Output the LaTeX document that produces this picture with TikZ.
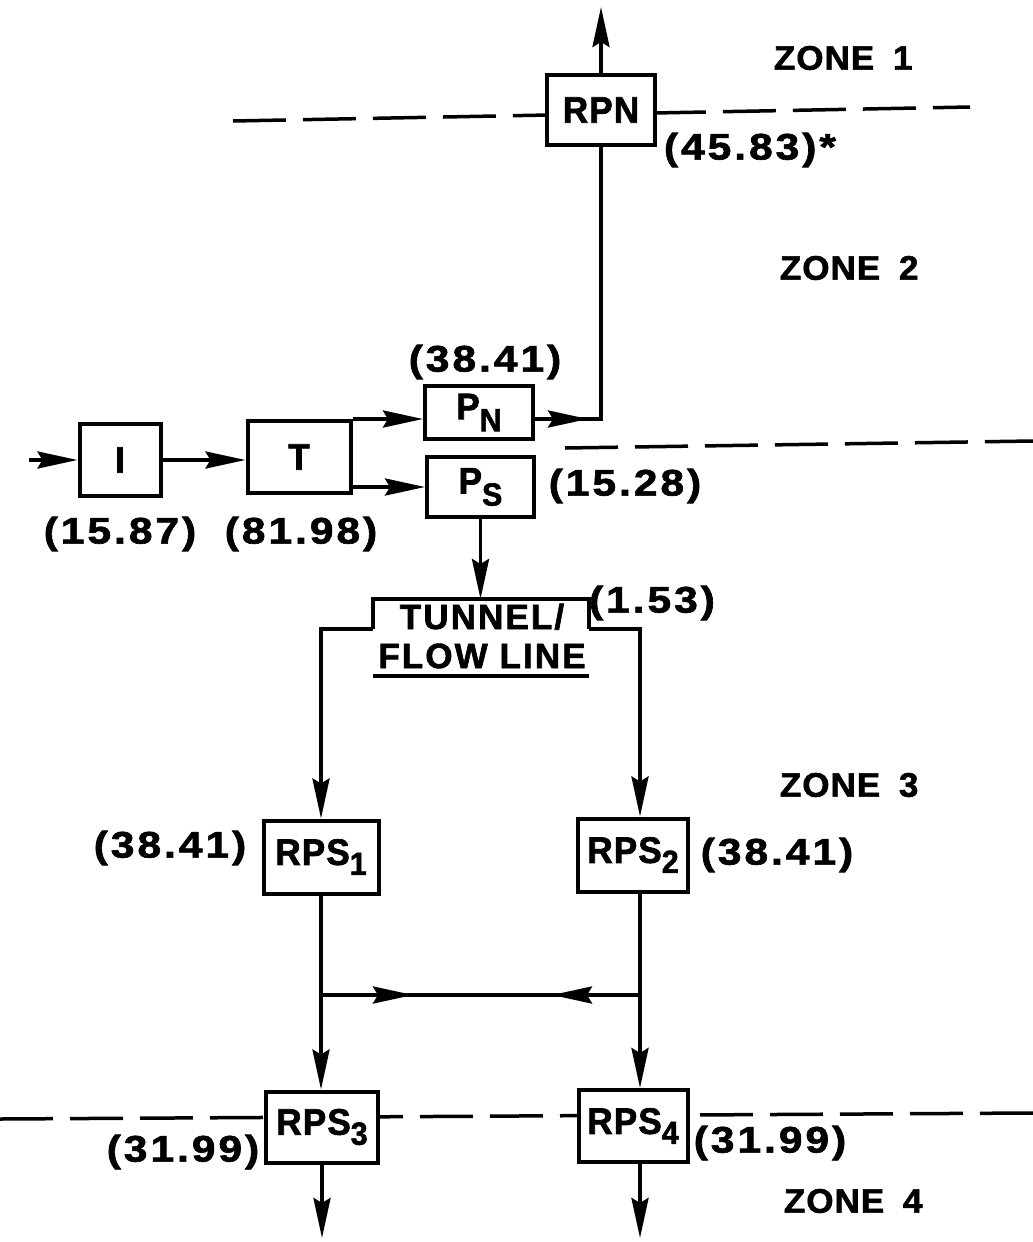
\documentclass[tikz,border=0pt]{standalone}
\usepackage{fontspec}
\setmainfont{Liberation Sans}
\newfontfamily\wordfont{Liberation Sans}[FakeStretch=1.03,LetterSpace=3,FakeBold=1.6]
\newfontfamily\boxfont{Liberation Sans}[FakeStretch=0.95,LetterSpace=3,FakeBold=1.8]
\newfontfamily\tunfont{Liberation Sans}[FakeStretch=1.0,LetterSpace=6,FakeBold=1.8]
\newfontfamily\numfont{Liberation Sans}[FakeStretch=1.15,LetterSpace=8,FakeBold=1.7]
\usetikzlibrary{arrows.meta}
\newcommand\lowsub[2]{\raisebox{-#1pt}{\fontsize{32}{32}\selectfont #2}}
\begin{document}
\begin{tikzpicture}[x=1pt,y=-1pt,
  line width=3.8pt,
  >={Stealth[length=40pt,width=17pt,inset=5pt]},
  box/.style={draw,line width=4pt,fill=white,inner sep=0pt,
    font=\boxfont\bfseries\fontsize{37}{39}\selectfont},
  num/.style={font=\numfont\bfseries\fontsize{37}{39}\selectfont,inner sep=0pt},
  zone/.style={font=\wordfont\bfseries\fontsize{34}{36}\selectfont,inner sep=0pt,anchor=west},
  zline/.style={dash pattern=on 53pt off 17pt,line width=3.5pt}]

\useasboundingbox[fill=white] (0,0) rectangle (1033,1242);

% zone boundaries
\draw[zline] (233,121) -- (970,107);
\draw[zline] (565,448) -- (1033,441);
\draw[zline] (0,1119) -- (1033,1113);

% boxes
\node[box,minimum width=108pt,minimum height=70pt] (RPN) at (601,110) {RPN};
\node[box,minimum width=81pt,minimum height=72pt] (I) at (120,460) {I};
\node[box,minimum width=103pt,minimum height=72pt] (T) at (299,457) {T};
\node[box,minimum width=108pt,minimum height=53pt] (PN) at (479,412.5) {P\lowsub{12}{N}};
\node[box,minimum width=107pt,minimum height=60pt] (PS) at (480.5,487) {P\lowsub{12}{S}};
\node[box,minimum width=115pt,minimum height=73pt] (RPS1) at (321,857) {RPS\lowsub{10}{1}};
\node[box,minimum width=110pt,minimum height=73pt] (RPS2) at (633,855) {RPS\lowsub{10}{2}};
\node[box,minimum width=112pt,minimum height=71pt] (RPS3) at (322,1127) {RPS\lowsub{10}{3}};
\node[box,minimum width=109pt,minimum height=72pt] (RPS4) at (633,1126) {RPS\lowsub{10}{4}};

% tunnel / flow line
\node[font=\tunfont\bfseries\fontsize{35}{39}\selectfont,align=center,inner sep=0pt]
  (TUN) at (482,636) {TUNNEL/\\FLOW LINE};
\coordinate (tunL) at (373,629);
\coordinate (tunR) at (589,629);
\coordinate (tunTop) at (481,599);
\draw[line width=4pt] (tunL) |- (589,599) -- (tunR);
\draw[line width=4pt] (373,676) -- (589,676);

% connectors
\coordinate (in) at (29,460);
\draw[->] (in) -- (I.west);
\draw[->] (I.east) -- (I.east -| T.west);
\coordinate (pnin) at ([yshift=-6.5pt]PN.west);
\draw[->] (T.east |- pnin) -- (pnin);
\draw[->] (T.east |- PS.west) -- (PS.west);
\coordinate (pnout) at ([yshift=-6.5pt]PN.east);
\coordinate (c1) at (pnout -| RPN.south);
\draw (pnout) -- (c1) -- (RPN.south);
\draw[->] (pnout) -- ([xshift=-13pt]c1);
\coordinate (top) at (601,7);
\draw[->] (RPN.north) -- (top);
\draw[->] (PS.south) -- (PS.south |- tunTop);

\coordinate (cL) at (321,629);
\coordinate (cR) at (640,629);
\draw[->] (tunL) -- (cL) -- (RPS1.north);
\draw[->] (tunR) -- (cR) -- (cR |- RPS2.north);
\draw[->] (RPS1.south) -- (RPS1.south |- RPS3.north);
\draw[->] (cR |- RPS2.south) -- (cR |- RPS4.north);

\coordinate (hL) at (321,995);
\coordinate (hR) at (640,995);
\draw (hL) -- (hR);
\draw[->] (hL) -- ([xshift=92pt]hL);
\draw[->] (hR) -- ([xshift=-88pt]hR);

\coordinate (out3) at (322,1238);
\coordinate (out4) at (640,1238);
\draw[->] (RPS3.south) -- (out3);
\draw[->] (cR |- RPS4.south) -- (out4);

% zone labels
\node[zone] (z1) at (772,58) {ZONE\hspace{8pt} 1};
\node[zone] (z2) at (778,268) {ZONE\hspace{8pt} 2};
\node[zone] (z3) at (778,785) {ZONE\hspace{8pt} 3};
\node[zone] (z4) at (782,1201) {ZONE\hspace{8pt} 4};

% values
\node[num,anchor=west] (vRPN) at (662,150) {(45.83)*};
\node[num] (vPN) at (485,362) {(38.41)};
\node[num] (vI) at (120,534) {(15.87)};
\node[num] (vT) at (301,534) {(81.98)};
\node[num] (vPS) at (625,486) {(15.28)};
\node[num] (vTUN) at (652,603) {(1.53)};
\node[num] (vR1) at (170,848) {(38.41)};
\node[num] (vR2) at (777,855) {(38.41)};
\node[num] (vR3) at (183,1152) {(31.99)};
\node[num] (vR4) at (770,1143) {(31.99)};
\end{tikzpicture}
\end{document}
